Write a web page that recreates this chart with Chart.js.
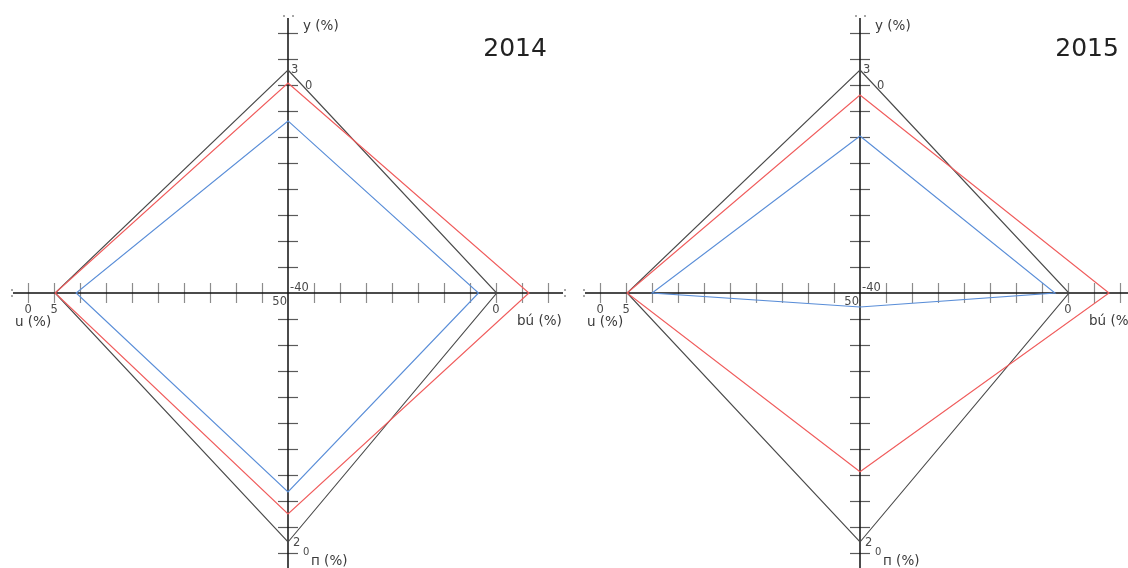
<!DOCTYPE html>
<html>
<head>
<meta charset="utf-8">
<script src="https://cdn.jsdelivr.net/npm/chart.js@4.4.1/dist/chart.umd.min.js"></script>
<style>
  html, body { margin: 0; padding: 0; background: #fff; overflow: hidden; width: 1128px; height: 568px; }
  .panel { position: absolute; top: 0; width: 576px; height: 568px; }
</style>
</head>
<body>
<div class="panel" style="left:0px"><canvas id="panel2014" width="576" height="568"></canvas></div>
<div class="panel" style="left:572px"><canvas id="panel2015" width="576" height="568"></canvas></div>
<script>
// Spokes, clockwise from the top: y, bú, п, u
const axisNames = ['y (%)', 'bú (%)', 'п (%)', 'u (%)'];
const years = ['2014', '2015'];

// Spoke values (one per axis, same order as axisNames)
const grey2014 = [8.58, 8.03, 9.58, 8.96];
const red2014  = [8.08, 9.27, 8.50, 8.96];
const blue2014 = [6.62, 7.33, 7.65, 8.15];
const grey2015 = [8.58, 8.04, 9.58, 8.96];
const red2015  = [7.62, 9.58, 6.88, 8.96];
const blue2015 = [6.04, 7.50, 0.54, 8.00];

// Axis extent and tick marks along each spoke
const axisTop = 10.58;
const tickSteps = [1, 2, 3, 4, 5, 6, 7, 8, 9, 10];

// Tick labels: [axis index, value, text]
const tickLabelAxis  = [3, 3, 1, 0, 0, 2, 2];
const tickLabelValue = [10, 9, 8, 8.58, 8, 9.58, 10];
const tickLabelText  = ['0', '5', '0', '3', '0', '2', '0'];
const originLabels = ['-40', '50'];

const seriesColors = ['#4a4a4a', '#f05c5c', '#5a8ed8'];

const FONT = '"DejaVu Sans", Verdana, sans-serif';

const crossAxes = {
  id: 'crossAxes',
  beforeDatasetsDraw(chart) {
    const s = chart.scales.r;
    const ctx = chart.ctx;
    const at = (i, v) => s.getPointPositionForValue(i, v);
    ctx.save();
    // tick marks, drawn across each axis
    for (let i = 0; i < 4; i++) {
      const horiz = i % 2 === 1;
      ctx.strokeStyle = horiz ? '#8c8c8c' : '#5a5a5a';
      ctx.lineWidth = 1.2;
      tickSteps.forEach(v => {
        const p = at(i, v);
        ctx.beginPath();
        if (horiz) {
          const x = Math.round(p.x) + 0.5;
          ctx.moveTo(x, p.y - 10); ctx.lineTo(x, p.y + 10);
        } else {
          const y = Math.round(p.y) + 0.5;
          ctx.moveTo(p.x - 10, y); ctx.lineTo(p.x + 10, y);
        }
        ctx.stroke();
      });
    }
    // the two axis lines through the origin
    const top = at(0, axisTop), right = at(1, axisTop), bottom = at(2, axisTop), left = at(3, axisTop);
    ctx.strokeStyle = '#111';
    ctx.lineWidth = 1.5;
    ctx.beginPath();
    ctx.moveTo(top.x, top.y); ctx.lineTo(bottom.x, bottom.y);
    ctx.moveTo(left.x, left.y); ctx.lineTo(right.x, right.y);
    ctx.stroke();
    // broken-axis dots at the open ends
    ctx.fillStyle = '#777';
    const dot = (x, y) => ctx.fillRect(x - 0.8, y - 0.8, 1.6, 1.6);
    dot(left.x - 1, left.y - 3); dot(left.x - 1, left.y + 3);
    dot(right.x + 2, right.y - 3); dot(right.x + 2, right.y + 3);
    dot(top.x - 4, top.y - 2); dot(top.x + 5, top.y - 2);
    ctx.restore();
  },
  afterDatasetsDraw(chart, args, opts) {
    const s = chart.scales.r;
    const ctx = chart.ctx;
    const at = (i, v) => s.getPointPositionForValue(i, v);
    const cx = s.xCenter, cy = s.yCenter;
    ctx.save();
    ctx.textBaseline = 'alphabetic';
    // axis titles
    ctx.fillStyle = '#3a3a3a';
    ctx.font = '13.5px ' + FONT;
    ctx.textAlign = 'left';
    ctx.fillText(axisNames[0], cx + 15, cy - 263);
    ctx.fillText(axisNames[1], cx + 229, cy + 32);
    ctx.fillText(axisNames[2], cx + 23, cy + 272);
    ctx.fillText(axisNames[3], cx - 273, cy + 33);
    // tick labels
    ctx.fillStyle = '#4a4a4a';
    tickLabelAxis.forEach((ax, k) => {
      const p = at(ax, tickLabelValue[k]);
      const txt = tickLabelText[k];
      ctx.font = '11.5px ' + FONT;
      if (ax === 1 || ax === 3) {
        ctx.textAlign = 'center';
        ctx.fillText(txt, p.x, p.y + 20);
      } else if (ax === 0) {
        ctx.textAlign = 'left';
        if (k === 3) ctx.fillText(txt, p.x + 3, p.y + 3);
        else ctx.fillText(txt, p.x + 17, p.y + 4);
      } else {
        ctx.textAlign = 'left';
        if (k === 5) ctx.fillText(txt, p.x + 5, p.y + 4);
        else { ctx.font = '10px ' + FONT; ctx.fillText(txt, p.x + 15, p.y + 2); }
      }
    });
    ctx.font = '11.5px ' + FONT;
    ctx.textAlign = 'left';
    ctx.fillText(originLabels[0], cx + 2, cy - 2);
    ctx.textAlign = 'right';
    ctx.fillText(originLabels[1], cx - 1, cy + 12);
    // panel title
    ctx.fillStyle = '#222';
    ctx.font = '25px ' + FONT;
    ctx.textAlign = 'right';
    ctx.fillText(opts.title, at(1, 10).x - 1, cy - 237);
    ctx.restore();
  }
};

function makePanel(id, title, grey, red, blue) {
  const mk = (data, color, order) => ({
    data, borderColor: color, backgroundColor: 'transparent', borderWidth: 1.15,
    fill: false, pointRadius: 0, pointHoverRadius: 0, tension: 0, order
  });
  return new Chart(document.getElementById(id), {
    type: 'radar',
    data: {
      labels: axisNames,
      datasets: [mk(grey, seriesColors[0], 3), mk(red, seriesColors[1], 2), mk(blue, seriesColors[2], 1)]
    },
    options: {
      responsive: false,
      devicePixelRatio: 1,
      animation: false,
      events: [],
      layout: { padding: { left: 13, top: 18, right: 13, bottom: 0 } },
      plugins: { legend: { display: false }, tooltip: { enabled: false }, crossAxes: { title } },
      scales: {
        r: {
          min: 0, max: axisTop,
          grid: { display: false },
          angleLines: { display: false },
          pointLabels: { display: false },
          ticks: { display: false }
        }
      }
    },
    plugins: [crossAxes]
  });
}

makePanel('panel2014', years[0], grey2014, red2014, blue2014);
makePanel('panel2015', years[1], grey2015, red2015, blue2015);
</script>
</body>
</html>
